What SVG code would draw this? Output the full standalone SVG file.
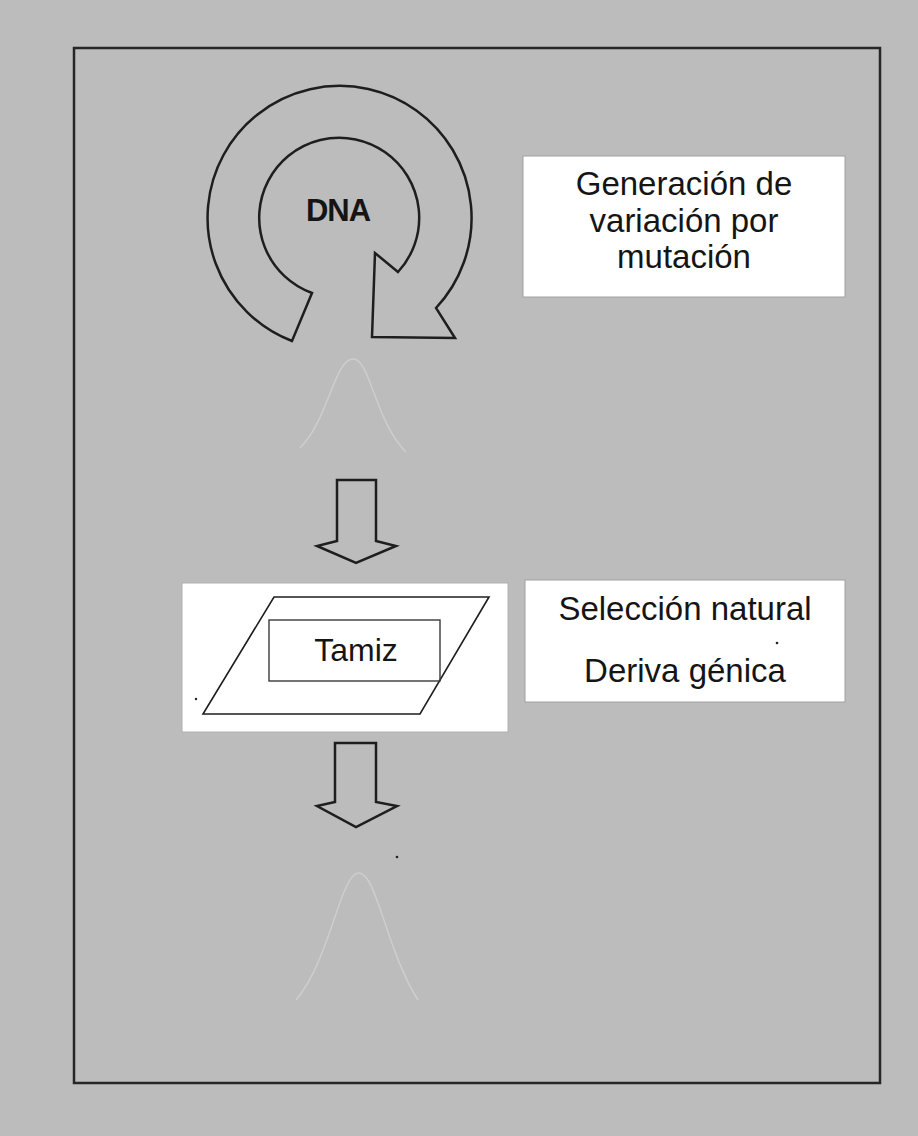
<svg xmlns="http://www.w3.org/2000/svg" width="918" height="1136" viewBox="0 0 918 1136">
<style>
.txt{font-family:"Liberation Sans",Arial,sans-serif;fill:#151515;text-anchor:middle}
.box{fill:#ffffff;stroke:#a0a0a0;stroke-width:1}
.ink{fill:none;stroke:#1e1e1e;stroke-width:2.5;stroke-linejoin:miter}
.faint{fill:none;stroke:#e0e0e0;stroke-width:1.5;opacity:0.5}
</style>
<rect x="0" y="0" width="918" height="1136" fill="#bcbcbc"/>
<rect id="frame" x="74" y="48" width="806" height="1035" fill="none" stroke="#262626" stroke-width="2.5"/>

<g id="dna-cycle">
<path class="ink" d="M292,341 A132,132 0 1 1 436,308 L455,338 L372,337 L375,253 L398,272 A80,80 0 1 0 312,293 Z"/>
<text class="txt" x="338" y="221" font-size="31" font-weight="bold" letter-spacing="-1">DNA</text>
</g>

<g id="mutation-box">
<rect class="box" x="523" y="156" width="322" height="141"/>
<text class="txt" x="684" y="195" font-size="33">Generación de</text>
<text class="txt" x="684" y="232" font-size="33">variación por</text>
<text class="txt" x="684" y="268" font-size="33">mutación</text>
</g>

<g id="curve-top">
<path class="faint" d="M300,448 C328,420 334,362 352,359 C370,356 374,420 406,452"/>
</g>

<g id="sieve">
<rect x="182" y="583" width="326" height="149" fill="#ffffff" stroke="#b0b0b0" stroke-width="1"/>
<polygon points="274,597 489,597 420,714 203,714" fill="none" stroke="#1e1e1e" stroke-width="1.6"/>
<rect x="269" y="620" width="171" height="61" fill="none" stroke="#3a3a3a" stroke-width="1.4"/>
<text class="txt" x="356" y="661" font-size="32">Tamiz</text>
</g>

<g id="selection-box">
<rect class="box" x="525" y="580" width="320" height="122"/>
<text class="txt" x="685" y="620" font-size="33">Selección natural</text>
<text class="txt" x="685" y="682" font-size="33">Deriva génica</text>
</g>

<g id="curve-bottom">
<path class="faint" d="M296,1000 C330,960 340,876 358,873 C376,870 386,950 418,1000"/>
</g>

<g id="connectors">
<path class="ink" d="M337,480 H376 V541 L396,546 L356,563 L317,546 L337,541 Z"/>
<path class="ink" d="M335,743 H376 V802 L397,806 L356,827 L317,806 L335,802 Z"/>
</g>
<circle cx="397" cy="857" r="1.3" fill="#222"/>
<circle cx="777" cy="643" r="1.3" fill="#222"/>
<circle cx="196" cy="699" r="1.2" fill="#222"/>
</svg>
